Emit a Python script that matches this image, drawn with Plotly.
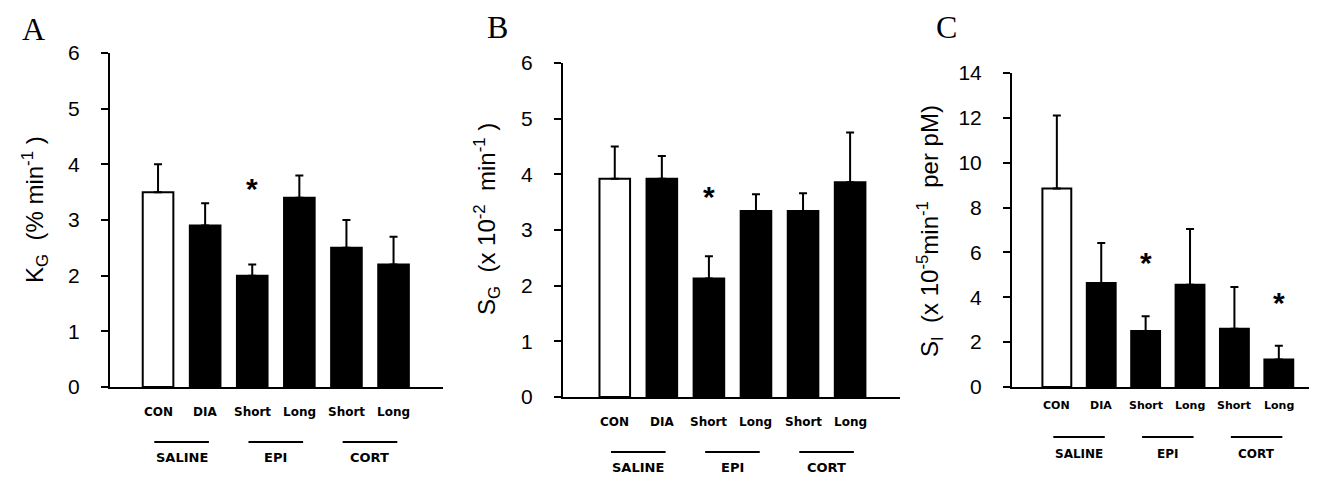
import plotly.graph_objects as go

W, H = 1317, 483
NB = "\u00a0"
PAGE_OFFSET = 8  # default body margin of the html page

# ---------------- data ----------------
conditions = ["CON", "DIA", "Short", "Long", "Short", "Long"]
groups = ["SALINE", "EPI", "CORT"]
bar_fill = ["white", "black", "black", "black", "black", "black"]

kg_mean = [3.5, 2.9, 2.0, 3.4, 2.5, 2.2]
kg_sem = [0.5, 0.4, 0.2, 0.4, 0.5, 0.5]

sg_mean = [3.92, 3.92, 2.13, 3.34, 3.34, 3.86]
sg_sem = [0.58, 0.41, 0.40, 0.30, 0.32, 0.89]

si_mean = [8.85, 4.64, 2.50, 4.56, 2.60, 1.23]
si_sem = [3.25, 1.78, 0.65, 2.48, 1.86, 0.61]

# significance markers: (condition index, y value)
kg_stars = [(2, 3.70)]
sg_stars = [(2, 3.72)]
si_stars = [(2, 5.87), (5, 4.09)]

kg_ticks = [0, 1, 2, 3, 4, 5, 6]
sg_ticks = [0, 1, 2, 3, 4, 5, 6]
si_ticks = [0, 2, 4, 6, 8, 10, 12, 14]

# ---------------- layout helpers ----------------
def px_x(p):
    return (p - PAGE_OFFSET) / W

def px_y(p):
    return 1 - (p - PAGE_OFFSET) / H

SUP = '<sup>{}</sup>'

panels = [
    dict(name="A", mean=kg_mean, sem=kg_sem, stars=kg_stars, ticks=kg_ticks,
         xd=(110, 443), yd=(387, 53), xr=[-1.02, 6.05],
         title="K<sub>G</sub>" + NB * 2 + "(%" + NB + "min" + SUP.format("-1") + NB + ")",
         title_xy=(35, 210),
         letter=(33, 29, "middle"), lab_y=(421, 442, 467), lab_size=12),
    dict(name="B", mean=sg_mean, sem=sg_sem, stars=sg_stars, ticks=sg_ticks,
         xd=(563, 900), yd=(397, 63), xr=[-1.1, 6.06],
         title="S<sub>G</sub>" + NB * 2 + "(x" + NB + "10" + SUP.format("-2") + NB * 2 + "min" + SUP.format("-1") + NB + ")",
         title_xy=(487, 219),
         letter=(497, 8, "top"), lab_y=(431, 452, 477), lab_size=12),
    dict(name="C", mean=si_mean, sem=si_sem, stars=si_stars, ticks=si_ticks,
         xd=(1012, 1317), yd=(387, 73), xr=[-1.01, 5.86],
         title="S<sub>I</sub>" + NB * 2 + "(x" + NB + "10" + SUP.format("-5") + "min" + SUP.format("-1") + NB * 2 + "per" + NB + "pM)",
         title_xy=(930, 231),
         letter=(947, 8, "top"), lab_y=(414, 437, 463), lab_size=11),
]

fig = go.Figure()
annotations = []
shapes = []
idx = list(range(len(conditions)))

for k, p in enumerate(panels):
    sfx = "" if k == 0 else str(k + 1)
    xa, ya = "x" + sfx, "y" + sfx
    fig.add_trace(go.Bar(
        x=idx, y=p["mean"], width=0.65,
        marker=dict(color=bar_fill, line=dict(color="black", width=2)),
        error_y=dict(type="data", symmetric=False, array=p["sem"],
                     arrayminus=[0] * len(p["sem"]),
                     color="black", thickness=2, width=4),
        xaxis=xa, yaxis=ya, showlegend=False, hoverinfo="skip",
    ))
    ymax = p["ticks"][-1]
    xd0, xd1 = px_x(p["xd"][0]), min(px_x(p["xd"][1]), 1.0)
    fig.layout["xaxis" + sfx] = dict(
        domain=[xd0, xd1], range=p["xr"],
        anchor=ya, showgrid=False, zeroline=False, showticklabels=False,
        ticks="", showline=True, linecolor="black", linewidth=2, fixedrange=True,
        automargin=False,
    )
    fig.layout["yaxis" + sfx] = dict(
        domain=[px_y(p["yd"][0]), px_y(p["yd"][1])], range=[0, ymax],
        anchor=xa, showgrid=False, zeroline=False, tickvals=p["ticks"],
        ticks="outside", ticklen=7, tickwidth=2, tickcolor="black",
        showline=True, linecolor="black", linewidth=2,
        tickfont=dict(family="Liberation Sans, Arial", size=21, color="black"),
        ticklabelstandoff=17, fixedrange=True, automargin=False,
    )
    # stars
    for (ci, yv) in p["stars"]:
        annotations.append(dict(x=ci, y=yv, xref=xa, yref=ya, text="<b>*</b>",
                                showarrow=False, yshift=-7,
                                font=dict(family="Liberation Sans, Arial", size=30, color="black")))
    # condition labels
    for ci, lab in enumerate(conditions):
        annotations.append(dict(x=ci, y=px_y(p["lab_y"][0]), xref=xa, yref="paper",
                                text="<b>" + lab + "</b>", showarrow=False,
                                font=dict(family="DejaVu Sans", size=p["lab_size"], color="black")))
    # group lines and labels
    for gi, g in enumerate(groups):
        a, b = 2 * gi, 2 * gi + 1
        shapes.append(dict(type="line", xref=xa, yref="paper",
                           x0=a - 0.08, x1=b + 0.08,
                           y0=px_y(p["lab_y"][1]), y1=px_y(p["lab_y"][1]),
                           line=dict(color="black", width=2)))
        annotations.append(dict(x=(a + b) / 2, y=px_y(p["lab_y"][2]), xref=xa, yref="paper",
                                text="<b>" + g + "</b>", showarrow=False,
                                font=dict(family="DejaVu Sans", size=p["lab_size"] + 1, color="black")))
    # y title
    annotations.append(dict(x=px_x(p["title_xy"][0]), y=px_y(p["title_xy"][1]),
                            xref="paper", yref="paper", text=p["title"], textangle=-90,
                            showarrow=False, xanchor="center", yanchor="middle",
                            font=dict(family="Liberation Sans, Arial", size=24, color="black")))
    # panel letter
    lx, ly, lanchor = p["letter"]
    annotations.append(dict(x=px_x(lx), y=px_y(ly),
                            xref="paper", yref="paper", text=p["name"], showarrow=False,
                            xanchor="center", yanchor=lanchor, borderpad=0,
                            font=dict(family="Liberation Serif, Times New Roman", size=32, color="black")))

fig.update_layout(
    template="none",
    width=W, height=H, margin=dict(l=0, r=0, t=0, b=0, pad=0),
    paper_bgcolor="white", plot_bgcolor="white",
    annotations=annotations, shapes=shapes, bargap=0.3,
)

fig.write_html("out.html")
